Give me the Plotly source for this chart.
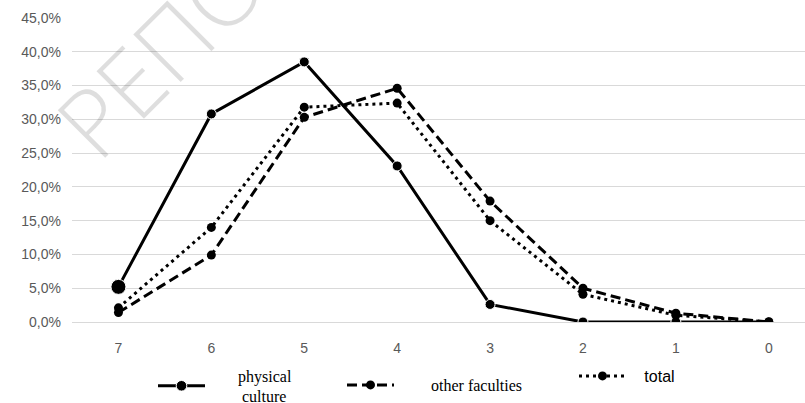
import plotly.graph_objects as go

categories = ["7", "6", "5", "4", "3", "2", "1", "0"]
physical_culture = [0.052, 0.308, 0.385, 0.231, 0.026, 0.0, 0.0, 0.0]
other_faculties = [0.014, 0.099, 0.303, 0.346, 0.179, 0.050, 0.013, 0.0]
total = [0.021, 0.140, 0.318, 0.324, 0.150, 0.041, 0.010, 0.0]
y_ticks = [0, 0.05, 0.10, 0.15, 0.20, 0.25, 0.30, 0.35, 0.40, 0.45]

xi = list(range(len(categories)))
NB = "\u00a0"

fig = go.Figure()
fig.add_trace(go.Scatter(
    x=xi, y=physical_culture, mode="lines+markers",
    name=NB * 7 + "physical<br>" + NB * 8 + "culture",
    legend="legend",
    line=dict(color="black", width=3, dash="solid"),
    marker=dict(color="black", size=[15] + [10] * 7, opacity=1),
))
fig.add_trace(go.Scatter(
    x=xi, y=other_faculties, mode="lines+markers",
    name=NB * 8 + "other faculties",
    legend="legend2",
    line=dict(color="black", width=3, dash="10px,5px"),
    marker=dict(color="black", size=9),
))
fig.add_trace(go.Scatter(
    x=xi, y=total, mode="lines+markers",
    name=NB * 3 + "total",
    legend="legend3",
    line=dict(color="black", width=3, dash="3px,4px"),
    marker=dict(color="black", size=9),
))

fig.add_annotation(
    x=(160 - 72) / 733, y=(322 - 52) / 304, xref="paper", yref="paper",
    xanchor="center", yanchor="middle",
    text="РЕПО", showarrow=False, textangle=-45,
    font=dict(family="Open Sans, Liberation Sans", size=94, weight=300,
              color="rgba(0,0,0,0.13)"),
)

serif = dict(family="Liberation Serif, Times New Roman, serif", size=16, color="black")
leg_common = dict(
    xref="container", yref="container", xanchor="left", yanchor="middle",
    bgcolor="rgba(0,0,0,0)", borderwidth=0, itemwidth=47, valign="middle",
    orientation="v",
)

fig.update_layout(
    width=805, height=403,
    margin=dict(l=72, r=0, t=18, b=81, autoexpand=False),
    plot_bgcolor="white", paper_bgcolor="white",
    separators=",.",
    font=dict(family="Liberation Sans, Arial, sans-serif", size=14, color="#595959"),
    showlegend=True,
    legend=dict(x=153 / 805, y=1 - 386 / 403, font=serif, **leg_common),
    legend2=dict(x=342 / 805, y=1 - 385 / 403, font=serif, **leg_common),
    legend3=dict(x=574 / 805, y=1 - 376 / 403,
                 font=dict(family="Liberation Sans", size=16, color="black"),
                 **leg_common),
    xaxis=dict(
        tickmode="array", tickvals=xi, ticktext=categories,
        range=[-0.5, 7.39], showgrid=False, zeroline=False,
        showline=False, ticks="", ticklabelstandoff=16,
        tickfont=dict(size=14, color="#595959"),
    ),
    yaxis=dict(
        range=[0, 0.45], tickvals=y_ticks, tickformat=".1%",
        showgrid=True, gridcolor="#d9d9d9", gridwidth=1,
        zeroline=True, zerolinecolor="#d9d9d9", zerolinewidth=1,
        showline=False, ticks="", ticklabelstandoff=10,
        tickfont=dict(size=14, color="#595959"),
    ),
)

fig.write_html(
    "out.html",
    config={"displayModeBar": False},
    post_script="document.body.style.margin='0';document.body.style.overflow='hidden';",
)
